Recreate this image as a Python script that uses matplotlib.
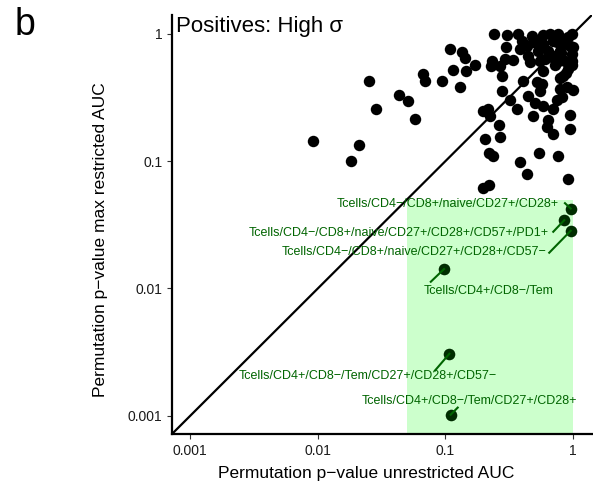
import numpy as np
import matplotlib.pyplot as plt

plt.rcParams['font.family'] = ['Liberation Sans', 'DejaVu Sans']

# all feature sets: (unrestricted AUC p, max restricted AUC p)
p_unres = [0.242, 0.303, 0.373, 0.475, 0.585, 0.66, 0.767, 0.99, 0.92, 0.397,
           0.489, 0.585, 0.745, 0.84, 1.0, 0.299, 0.385, 0.535, 0.641, 0.791,
           0.109, 0.134, 0.143, 0.294, 0.341, 0.447, 0.461, 0.552, 0.681, 0.745,
           0.865, 0.977, 0.231, 0.171, 0.228, 0.268, 0.1156, 0.1445, 0.585, 0.919,
           0.84, 0.0665, 0.2765, 0.0253, 0.0693, 0.0937, 0.408, 0.52, 0.569, 0.130,
           0.791, 0.893, 1.0, 0.2765, 0.552, 0.0434, 0.0513, 0.447, 0.321, 0.504,
           0.745, 0.816, 0.70, 0.585, 0.0285, 0.196, 0.217, 0.224, 0.362, 0.489,
           0.947, 0.058, 0.641, 0.265, 0.622, 0.70, 0.947, 0.205, 0.268, 0.0091,
           0.0212, 0.221, 0.2375, 0.545, 0.767, 0.0183, 0.385, 0.434, 0.909, 0.196,
           0.221, 0.697, 0.865, 0.947, 0.805, 0.98, 0.60, 0.723, 0.98, 0.88,
           0.79, 0.50, 0.44]
p_maxres = [0.99, 0.98, 1.0, 0.97, 0.98, 1.0, 1.0, 1.0, 0.94, 0.886,
            0.86, 0.835, 0.86, 0.835, 0.785, 0.785, 0.763, 0.74, 0.74, 0.74,
            0.763, 0.718, 0.649, 0.637, 0.625, 0.676, 0.599, 0.618, 0.656, 0.599,
            0.618, 0.618, 0.61, 0.565, 0.557, 0.557, 0.522, 0.515, 0.515, 0.532,
            0.471, 0.486, 0.471, 0.423, 0.423, 0.423, 0.43, 0.418, 0.406, 0.386,
            0.371, 0.382, 0.36, 0.355, 0.355, 0.333, 0.296, 0.323, 0.30, 0.286,
            0.30, 0.319, 0.258, 0.269, 0.255, 0.25, 0.258, 0.225, 0.258, 0.225,
            0.229, 0.214, 0.209, 0.191, 0.185, 0.164, 0.18, 0.150, 0.155, 0.143,
            0.135, 0.115, 0.11, 0.115, 0.11, 0.1004, 0.0986, 0.080, 0.0721, 0.0621,
            0.0656, 0.886, 0.92, 0.81, 0.713, 0.70, 0.64, 0.565, 0.565, 0.497,
            0.447, 0.886, 0.81]

# highlighted positives
hl_names = ['Tcells/CD4\u2212/CD8+/naive/CD27+/CD28+',
            'Tcells/CD4\u2212/CD8+/naive/CD27+/CD28+/CD57+/PD1+',
            'Tcells/CD4\u2212/CD8+/naive/CD27+/CD28+/CD57\u2212',
            'Tcells/CD4+/CD8\u2212/Tem',
            'Tcells/CD4+/CD8\u2212/Tem/CD27+/CD28+/CD57\u2212',
            'Tcells/CD4+/CD8\u2212/Tem/CD27+/CD28+']
hl_unres = [0.96, 0.855, 0.96, 0.0977, 0.1075, 0.110]
hl_maxres = [0.0425, 0.0344, 0.0284, 0.01422, 0.00307, 0.00102]

# label placement (text anchor, alignment, segment start)
label_xy = [(0.777, 0.0459), (0.652, 0.02737), (0.622, 0.0192),
            (0.217, 0.00956), (0.0245, 0.00204), (0.154, 0.00131)]
label_ha = ['right', 'right', 'right', 'center', 'center', 'center']
seg_xy = [(0.866, 0.0468), (0.701, 0.0279), (0.652, 0.0191),
          (0.0769, 0.0113), (0.083, 0.00227), (0.125, 0.00116)]

lo, hi = 10 ** -3.143, 10 ** 0.148

fig = plt.figure(figsize=(5.93, 4.86), dpi=100)
ax = fig.add_axes([0.29, 0.107, 0.708, 0.862])

ax.fill_between([0.05, 1], [lo, lo], [0.05, 0.05], color='#ccffcc', lw=0, zorder=0)
ax.plot([lo, hi], [lo, hi], color='black', lw=1.6, zorder=1)
ax.scatter(p_unres, p_maxres, s=68, color='black', lw=0, zorder=2)
ax.scatter(hl_unres, hl_maxres, s=68, color='black', lw=0, zorder=2)
ax.scatter(hl_unres, hl_maxres, s=68, color='#006400', alpha=0.45, lw=0, zorder=3)

for i in range(len(hl_names)):
    ax.plot([seg_xy[i][0], hl_unres[i]], [seg_xy[i][1], hl_maxres[i]],
            color='#006400', lw=1.5, zorder=3)
    ax.text(label_xy[i][0], label_xy[i][1], hl_names[i], ha=label_ha[i], va='center',
            color='#006400', fontsize=9, zorder=4)

ax.set_xscale('log')
ax.set_yscale('log')
ax.set_xlim(lo, hi)
ax.set_ylim(lo, hi)
ticks = [0.001, 0.01, 0.1, 1]
tick_labels = ['0.001', '0.01', '0.1', '1']
ax.set_xticks(ticks)
ax.set_xticklabels(tick_labels)
ax.set_yticks(ticks)
ax.set_yticklabels(tick_labels)
ax.minorticks_off()
ax.tick_params(length=3.5, width=0.8, color='#333333', labelsize=10, labelcolor='#1a1a1a')

for s in ['top', 'right']:
    ax.spines[s].set_visible(False)
for s in ['left', 'bottom']:
    ax.spines[s].set_linewidth(1.6)

ax.set_xlabel('Permutation p\u2212value unrestricted AUC', fontsize=12.5, va='center')
ax.xaxis.set_label_coords(0.463, -0.095)
ax.set_ylabel('Permutation p\u2212value max restricted AUC', fontsize=12.5, va='center')
ax.yaxis.set_label_coords(-0.171, 0.463)

fig.text(0.297, 0.934, 'Positives: High \u03c3', fontsize=16, va='baseline', ha='left')
fig.text(0.024, 0.948, 'b', fontsize=27, va='center', ha='left')

fig.savefig('out.png', dpi=100)
